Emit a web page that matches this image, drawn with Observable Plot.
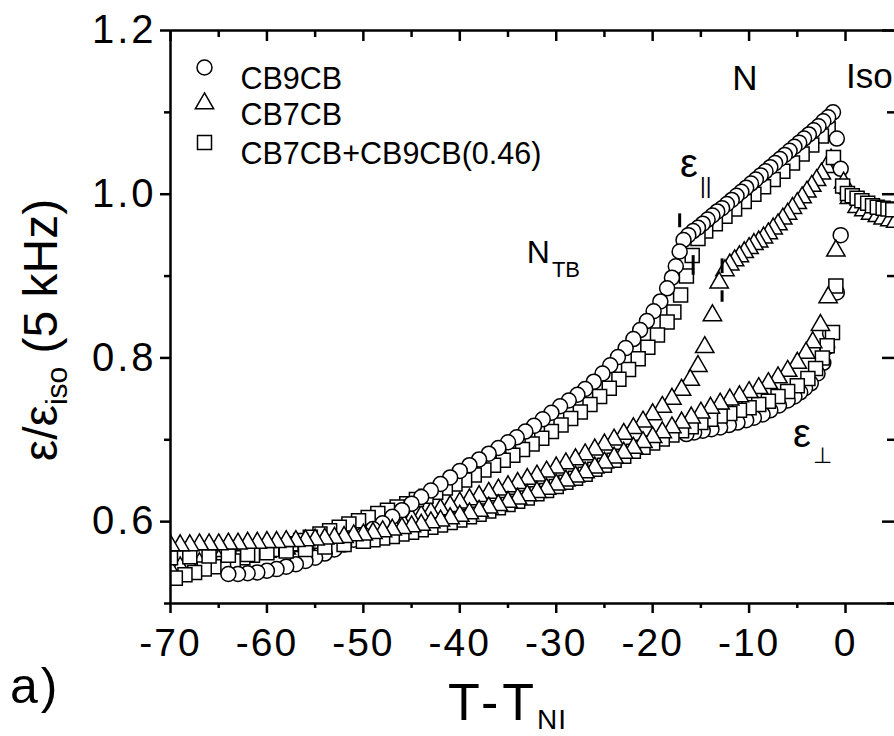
<!DOCTYPE html>
<html><head><meta charset="utf-8">
<script src="https://cdn.jsdelivr.net/npm/d3@7"></script>
<script src="https://cdn.jsdelivr.net/npm/@observablehq/plot@0.6"></script>
<style>
html,body{margin:0;padding:0;background:#fff;}
#chart{position:relative;width:894px;height:736px;overflow:hidden;background:#fff;}
</style></head><body><div id="chart"></div>
<script>
// ---------- axis ticks ----------
const xDomain = [-70, 5.08];
const yDomain = [0.5, 1.2];
const xMajorTicks = [-70, -60, -50, -40, -30, -20, -10, 0];
const xMinorTicks = [-65, -55, -45, -35, -25, -15, -5];
const yMajorTicks = [0.6, 0.8, 1.0, 1.2];
const yMinorTicks = [0.5, 0.7, 0.9, 1.1];

// ---------- series names ----------
const seriesNames = ["CB9CB", "CB7CB", "CB7CB+CB9CB(0.46)"];

// ---------- CB9CB (circles) ----------
const cb9cbParX = [-0.5,-0.9,-1.3,-1.8,-2.3,-2.8,-3.3,-3.8,-4.3,-4.8,-5.3,-5.8,-6.3,-6.8,-7.3,-7.8,-8.3,-8.8,-9.3,-9.8,-10.3,-10.8,-11.3,-11.8,-12.3,-12.8,-13.3,-13.8,-14.3,-14.8,-15.3,-15.8,-16.3,-16.8,-17.2,-17.6,-18.0,-18.5,-19.2,-19.9,-20.6,-21.3,-22.0,-22.8,-23.6,-24.4,-25.2,-26.1,-27.0,-27.8,-28.7,-29.6,-30.5,-31.4,-32.3,-33.2,-34.1,-35.0,-36,-37,-38,-39,-40,-41,-42,-43,-44,-45,-46,-47,-48,-49,-50,-51,-52,-53,-54,-55,-56,-57,-58,-59,-60,-61,-62,-63,-64];
const cb9cbParY = [1.031,1.068,1.100,1.094,1.089,1.083,1.078,1.073,1.068,1.063,1.058,1.053,1.048,1.043,1.038,1.033,1.028,1.023,1.018,1.013,1.008,1.003,0.998,0.993,0.988,0.983,0.979,0.974,0.969,0.964,0.959,0.955,0.950,0.944,0.930,0.912,0.898,0.885,0.869,0.857,0.845,0.834,0.823,0.812,0.801,0.791,0.781,0.771,0.762,0.755,0.748,0.741,0.733,0.725,0.717,0.710,0.703,0.697,0.690,0.683,0.676,0.669,0.662,0.654,0.646,0.638,0.630,0.622,0.614,0.606,0.598,0.591,0.584,0.578,0.572,0.566,0.561,0.556,0.552,0.548,0.545,0.542,0.540,0.538,0.537,0.536,0.536];
const cb9cbPerpX = [-0.5,-0.9,-1.6,-1.9,-2.3,-2.9,-3.6,-4.2,-4.7,-5.3,-6.0,-6.9,-7.8,-8.6,-9.5,-10.3,-11.2,-12.1,-13.0,-13.9,-14.8,-15.7,-16.5];
const cb9cbPerpY = [0.950,0.880,0.830,0.813,0.794,0.781,0.769,0.763,0.758,0.753,0.748,0.742,0.736,0.731,0.727,0.724,0.721,0.718,0.715,0.713,0.711,0.709,0.707];
const cb9cbIsoX = [-0.2,0.3,0.8,1.3,1.8,2.3,2.8,3.3,3.8,4.3,4.8];
const cb9cbIsoY = [1.008,1.000,0.996,0.992,0.989,0.986,0.984,0.982,0.980,0.979,0.978];

// ---------- CB7CB (triangles) ----------
const cb7cbParX = [-1.5,-2.0,-2.5,-3.0,-3.5,-4.0,-4.5,-5.0,-5.5,-6.0,-6.5,-7.0,-7.5,-8.0,-8.5,-9.0,-9.5,-10.0,-10.5,-11.0,-11.5,-12.0,-12.5,-13.1,-13.8,-14.6,-15.3,-16.1,-17,-18,-19,-20,-21,-22,-23,-24,-25,-26,-27,-28,-29,-30,-31,-32,-33,-34,-35,-36,-37,-38,-39,-40,-41,-42,-43,-44,-45,-46,-47,-48,-49,-50,-51,-52,-53,-54,-55,-56,-57,-58,-59,-60,-61,-62,-63,-64,-65,-66,-67,-68,-69,-70];
const cb7cbParY = [1.042,1.033,1.025,1.017,1.010,1.003,0.996,0.989,0.983,0.976,0.970,0.963,0.958,0.952,0.947,0.942,0.939,0.934,0.929,0.924,0.919,0.914,0.907,0.892,0.852,0.813,0.790,0.773,0.761,0.750,0.740,0.731,0.722,0.714,0.707,0.700,0.694,0.688,0.682,0.676,0.671,0.666,0.661,0.656,0.652,0.647,0.643,0.639,0.635,0.631,0.627,0.623,0.619,0.615,0.611,0.607,0.603,0.600,0.596,0.593,0.590,0.587,0.584,0.582,0.579,0.577,0.574,0.572,0.570,0.567,0.565,0.563,0.561,0.559,0.557,0.555,0.553,0.551,0.549,0.546,0.544,0.541];
const cb7cbPerpX = [-1.0,-1.8,-2.6,-3.4,-4.1,-5,-6,-7,-8,-9,-10,-11,-12,-13,-14,-15,-16,-17,-18,-19,-20,-21,-22,-23,-24,-25,-26,-27,-28,-29,-30,-31,-32,-33,-34,-35,-36,-37,-38,-39,-40,-41,-42,-43,-44,-45,-46,-47,-48,-49,-50,-51,-52,-53,-54,-55,-56,-57,-58,-59,-60,-61,-62,-63,-64,-65,-66,-67,-68,-69,-70];
const cb7cbPerpY = [0.931,0.874,0.840,0.819,0.806,0.794,0.784,0.776,0.769,0.763,0.758,0.753,0.749,0.744,0.739,0.733,0.727,0.721,0.715,0.709,0.703,0.697,0.690,0.684,0.678,0.672,0.666,0.660,0.655,0.650,0.645,0.640,0.636,0.632,0.628,0.624,0.620,0.617,0.613,0.610,0.607,0.604,0.601,0.599,0.596,0.594,0.592,0.590,0.588,0.586,0.584,0.583,0.581,0.580,0.579,0.578,0.577,0.576,0.576,0.575,0.575,0.574,0.574,0.573,0.573,0.572,0.572,0.572,0.571,0.571,0.571];
const cb7cbIsoX = [-0.2,0.4,1.2,1.9,2.6,3.3,3.9,4.6,5.2];
const cb7cbIsoY = [1.014,0.995,0.984,0.980,0.976,0.973,0.970,0.968,0.966];

// ---------- CB7CB+CB9CB(0.46) (squares) ----------
const mixParX = [-1.25,-1.8,-2.5,-3.5,-4.5,-5.5,-6.5,-7.5,-8.5,-9.5,-10.5,-11.5,-12.5,-13.5,-14.5,-15.3,-15.9,-16.5,-17.1,-17.8,-18.5,-19.5,-20.5,-21.5,-22.5,-23.5,-24.5,-25.5,-26.5,-27.5,-28.5,-29.5,-30.5,-31.5,-32.5,-33.5,-34.5,-35.5,-36.5,-37.5,-38.5,-39.5,-40.5,-41.5,-42.5,-43.5,-44.5,-45.5,-46.5,-47.5,-48.5,-49.5,-50.5,-51.5,-52.5,-53.5,-54.5,-55.5,-56.5,-57.5,-58.5,-59.5,-60.5,-61.5,-62.5,-63.5,-64.5,-65.5,-66.5,-67.5,-68.5,-69.5];
const mixParY = [1.045,1.080,1.071,1.060,1.049,1.038,1.028,1.018,1.009,1.000,0.991,0.982,0.973,0.964,0.955,0.946,0.925,0.900,0.877,0.856,0.844,0.828,0.813,0.799,0.786,0.774,0.763,0.753,0.743,0.734,0.726,0.718,0.710,0.702,0.695,0.688,0.681,0.675,0.669,0.663,0.657,0.651,0.646,0.641,0.636,0.631,0.627,0.622,0.618,0.614,0.610,0.605,0.601,0.597,0.593,0.589,0.585,0.581,0.577,0.573,0.570,0.566,0.563,0.559,0.556,0.552,0.549,0.545,0.542,0.538,0.535,0.531];
const mixPerpX = [-1.0,-1.35,-1.9,-2.4,-3.1,-3.9,-5,-6,-7,-8,-9,-10,-11,-12,-13,-14,-15,-16,-17,-18,-19,-20,-21,-22,-23,-24,-25,-26,-27,-28,-29,-30,-31,-32,-33,-34,-35,-36,-37,-38,-39,-40,-41,-42,-43,-44,-45,-46,-47,-48,-49,-50,-52,-54,-56,-58,-60,-62,-64,-66,-68,-70];
const mixPerpY = [0.888,0.831,0.815,0.800,0.787,0.775,0.766,0.759,0.753,0.747,0.743,0.739,0.736,0.732,0.729,0.725,0.721,0.716,0.711,0.706,0.701,0.696,0.691,0.686,0.680,0.675,0.669,0.664,0.658,0.653,0.648,0.643,0.638,0.634,0.629,0.625,0.621,0.617,0.613,0.609,0.606,0.602,0.599,0.596,0.593,0.590,0.587,0.585,0.582,0.580,0.578,0.576,0.572,0.569,0.566,0.564,0.562,0.560,0.559,0.558,0.557,0.556];
const mixIsoX = [-0.3,0.2,0.7,1.2,1.7,2.3,2.8,3.3,3.9,4.4,4.9];
const mixIsoY = [1.010,1.001,0.998,0.995,0.992,0.989,0.986,0.984,0.983,0.982,0.981];

// ---------- transition markers (phase-transition bars) ----------
const transitionT = [-17.2, -15.8, -12.8, -12.8];
const transitionLo = [0.959, 0.901, 0.903, 0.868];
const transitionHi = [0.976, 0.925, 0.921, 0.882];

// ---------- text annotations ----------
const phaseLabels = [{text: "N", x: -11.7, y: 1.127}, {text: "Iso", x: 0.1, y: 1.129}];
const ntbLabel = {main: "N", sub: "TB", x: -33.0, y: 0.915};
const epsLabels = [{main: "ε", sub: "||", x: -17.1, y: 1.020}, {main: "ε", sub: "⊥", x: -5.4, y: 0.690}];

// ---------- build tables ----------
function rows(xs, ys) {
  const n = Math.min(xs.length, ys.length);
  const out = [];
  for (let i = 0; i < n; i++) out.push({x: xs[i], y: ys[i]});
  return out;
}
const transitions = transitionT.map((t, i) => ({t, lo: transitionLo[i], hi: transitionHi[i]}));

const FONT = "'Liberation Sans', Arial, Helvetica, sans-serif";
const sym = {circle: {symbol: "circle", r: 7.5}, triangle: {symbol: "triangle", r: 6.8}, square: {symbol: "square", r: 7.9}};
const dotBase = {x: "x", y: "y", fill: "white", stroke: "black", strokeWidth: 1.5, clip: true};
const dots = (data, s) => Plot.dot(data, {...dotBase, ...sym[s]});

const legendSymbols = ["circle", "triangle", "square"];
const legendDy = [37, 73, 112];
const legendMarks = seriesNames.flatMap((name, i) => [
  Plot.dot([name], {frameAnchor: "top-left", dx: 34, dy: legendDy[i], fill: "white", stroke: "black", strokeWidth: 1.5, ...sym[legendSymbols[i]]}),
  Plot.text([name], {frameAnchor: "top-left", dx: 70, dy: legendDy[i], text: d => d, textAnchor: "start", fontSize: 30.5, fill: "black"})
]);

const chart = Plot.plot({
  width: 894, height: 736,
  marginLeft: 170, marginRight: 0, marginTop: 30, marginBottom: 133,
  x: {domain: xDomain},
  y: {domain: yDomain},
  style: {fontFamily: FONT, background: "white", color: "black"},
  marks: [
    dots(rows(cb7cbParX, cb7cbParY), "triangle"),
    dots(rows(mixParX, mixParY), "square"),
    dots(rows(cb9cbParX, cb9cbParY), "circle"),
    dots(rows(cb9cbPerpX, cb9cbPerpY), "circle"),
    dots(rows(mixPerpX, mixPerpY), "square"),
    dots(rows(cb7cbPerpX, cb7cbPerpY), "triangle"),
    dots(rows(cb9cbIsoX, cb9cbIsoY), "circle"),
    dots(rows(cb7cbIsoX, cb7cbIsoY), "triangle"),
    dots(rows(mixIsoX, mixIsoY), "square"),
    Plot.ruleX(transitions, {x: "t", y1: "lo", y2: "hi", stroke: "black", strokeWidth: 3}),
    Plot.ruleX([xDomain[0]], {stroke: "black", strokeWidth: 2.5}),
    Plot.ruleY([yDomain[0]], {stroke: "black", strokeWidth: 2.5}),
    Plot.ruleY([yDomain[1]], {stroke: "black", strokeWidth: 2.5}),
    Plot.axisX({anchor: "bottom", ticks: xMajorTicks, tickSize: 10, tickPadding: 15, fontSize: 39, strokeWidth: 2.5, tickFormat: d => String(d), label: null}),
    Plot.axisX({anchor: "bottom", ticks: xMinorTicks, tickSize: 5, strokeWidth: 2.5, tickFormat: () => "", label: null}),
    Plot.axisX({anchor: "top", ticks: xMajorTicks, tickSize: -10, strokeWidth: 2.5, tickFormat: () => "", label: null}),
    Plot.axisX({anchor: "top", ticks: xMinorTicks, tickSize: -6, strokeWidth: 2.5, tickFormat: () => "", label: null}),
    Plot.axisY({anchor: "left", ticks: yMajorTicks, tickSize: 10, tickPadding: 4, fontSize: 40, strokeWidth: 2.5, tickFormat: d => d.toFixed(1), label: null}),
    Plot.axisY({anchor: "left", ticks: yMinorTicks, tickSize: 6, strokeWidth: 2.5, tickFormat: () => "", label: null}),
    Plot.axisY({anchor: "right", ticks: yMajorTicks, tickSize: -13, strokeWidth: 2.5, tickFormat: () => "", label: null}),
    Plot.axisY({anchor: "right", ticks: yMinorTicks, tickSize: -8, strokeWidth: 2.5, tickFormat: () => "", label: null}),
    ...legendMarks
  ]
});
document.getElementById("chart").appendChild(chart);

const svg = d3.select(chart);
// slightly wider tick-label lettering, as in the reference
svg.selectAll('[aria-label="y-axis tick label"] text').attr("letter-spacing", 3);
svg.selectAll('[aria-label="x-axis tick label"] text').attr("letter-spacing", 2);

// ---------- text with subscripts ----------
const sx = chart.scale("x"), sy = chart.scale("y");
const g = svg.append("g").attr("font-family", FONT).attr("fill", "black").attr("text-anchor", "start");

phaseLabels.forEach(d => {
  g.append("text").attr("x", sx.apply(d.x)).attr("y", sy.apply(d.y)).attr("font-size", 35).text(d.text);
});
{
  const t = g.append("text").attr("x", sx.apply(ntbLabel.x)).attr("y", sy.apply(ntbLabel.y)).attr("font-size", 32);
  t.append("tspan").text(ntbLabel.main);
  t.append("tspan").attr("font-size", 22).attr("dy", 14).attr("dx", 2).text(ntbLabel.sub);
}
epsLabels.forEach(d => {
  const t = g.append("text").attr("x", sx.apply(d.x)).attr("y", sy.apply(d.y)).attr("font-size", 40);
  t.append("tspan").text(d.main);
  t.append("tspan").attr("font-size", 22).attr("dy", 16).attr("dx", 2).text(d.sub);
});

{
  const t = g.append("text").attr("x", 448).attr("y", 720).attr("font-size", 52).attr("letter-spacing", 4);
  t.append("tspan").text("T-T");
  t.append("tspan").attr("font-size", 28).attr("letter-spacing", 1).attr("dy", 9).attr("dx", -1).text("NI");
}
{
  const t = g.append("text").attr("transform", "translate(57,330) rotate(-90)").attr("text-anchor", "middle").attr("font-size", 48);
  t.append("tspan").text("ε/ε");
  t.append("tspan").attr("font-size", 30).attr("dy", 10).text("iso");
  t.append("tspan").attr("dy", -10).text(" (5 kHz)");
}
g.append("text").attr("x", 10).attr("y", 703).attr("font-size", 50).attr("letter-spacing", 3).text("a)");
</script>
</body></html>
